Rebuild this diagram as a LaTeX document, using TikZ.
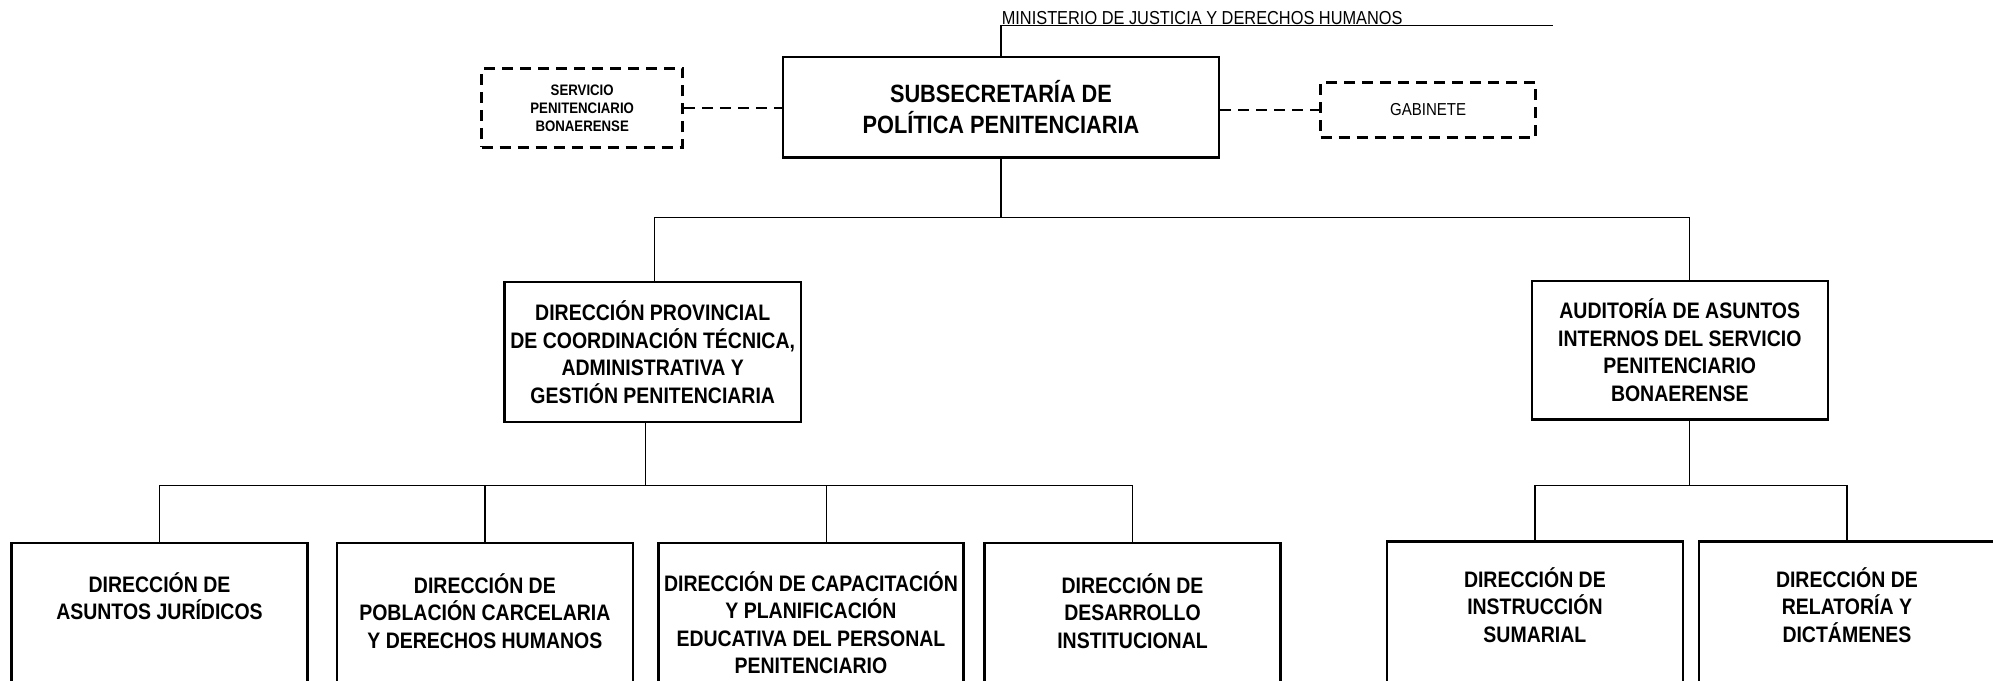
\documentclass[tikz,border=0pt]{standalone}
\usepackage{fontspec}
\setmainfont{Liberation Sans}[FakeStretch=0.87]
\usetikzlibrary{calc}
\begin{document}
\begin{tikzpicture}[x=1pt,y=-1pt]
\tikzset{
 box/.style={draw, line width=2.5pt, inner sep=0pt, align=center},
 dbox/.style={draw, line width=2.5pt, dash pattern=on 11pt off 7pt, inner sep=0pt, align=center},
 conn/.style={line width=1.2pt},
 dconn/.style={line width=2.5pt, dash pattern=on 11pt off 7pt},
 bigtxt/.style={font=\fontsize{25}{30.6}\selectfont\bfseries},
 medtxt/.style={font=\fontsize{22.4}{27.6}\selectfont\bfseries},
 smalltxt/.style={font=\fontsize{15.2}{17.8}\selectfont\bfseries},
 gabtxt/.style={font=\fontsize{17.3}{18}\selectfont},
 mintxt/.style={font=\fontsize{18.8}{18}\selectfont},
 txt/.style={inner sep=0pt, align=center},
 lowbox/.style={box, anchor=north, minimum width=296pt, minimum height=250pt}
}
\path[use as bounding box] (0,0) rectangle (1993,680);
\clip (0,0) rectangle (1993,680);
% top level
\node[box, bigtxt, minimum width=436pt, minimum height=100.6pt] (sub) at (1001,107.3) {SUBSECRETARÍA DE\\POLÍTICA PENITENCIARIA};
\node[dbox, smalltxt, minimum width=201pt, minimum height=78.8pt] (serv) at (582.2,108) {SERVICIO\\PENITENCIARIO\\BONAERENSE};
\node[dbox, gabtxt, minimum width=214.8pt, minimum height=54.7pt] (gab) at (1428.1,110) {GABINETE};
\coordinate (mtop) at (1001,25.4);
\coordinate (mend) at (1553,25.4);
\node[mintxt, inner sep=0pt, anchor=base west] (min) at (1001.6,24) {MINISTERIO DE JUSTICIA Y DERECHOS HUMANOS};
\draw[conn] (sub.north) -- (mtop) -- (mend);
\draw[dconn] (serv.east) -- (sub.west |- serv.east);
\draw[dconn] (sub.east |- gab.west) -- (gab.west);
% second level
\node[box, medtxt, minimum width=296.2pt, minimum height=139.8pt] (dp) at (652.7,352.1) {DIRECCIÓN PROVINCIAL\\DE COORDINACIÓN TÉCNICA,\\ADMINISTRATIVA Y\\GESTIÓN PENITENCIARIA};
\node[box, medtxt, minimum width=296pt, minimum height=138.5pt] (aud) at (1679.75,350.25) {AUDITORÍA DE ASUNTOS\\INTERNOS DEL SERVICIO\\PENITENCIARIO\\BONAERENSE};
\coordinate (busL) at (654.6,217.4);
\coordinate (busR) at (1689.3,217.4);
\draw[conn] (sub.south) -- (sub.south |- busL);
\draw[conn] (busL |- dp.north) -- (busL) -- (busR) -- (busR |- aud.north);
% third level boxes
\node[lowbox] (b1) at (159.5,541.5) {};
\node[lowbox] (b2) at (484.9,541.5) {};
\node[lowbox, minimum width=305pt] (b3) at (810.95,541.5) {};
\node[lowbox] (b4) at (1132.5,541.5) {};
\node[lowbox] (b5) at (1534.9,540.2) {};
\node[lowbox] (b6) at (1846.9,540.2) {};
\node[txt, medtxt] (t1) at (159.5,596) {DIRECCIÓN DE\\ASUNTOS JURÍDICOS};
\node[txt, medtxt] (t2) at (484.9,611) {DIRECCIÓN DE\\POBLACIÓN CARCELARIA\\Y DERECHOS HUMANOS};
\node[txt, medtxt] (t3) at (810.95,622.6) {DIRECCIÓN DE CAPACITACIÓN\\Y PLANIFICACIÓN\\EDUCATIVA DEL PERSONAL\\PENITENCIARIO};
\node[txt, medtxt] (t4) at (1132.5,611) {DIRECCIÓN DE\\DESARROLLO\\INSTITUCIONAL};
\node[txt, medtxt] (t5) at (1534.9,605) {DIRECCIÓN DE\\INSTRUCCIÓN\\SUMARIAL};
\node[txt, medtxt] (t6) at (1846.9,605) {DIRECCIÓN DE\\RELATORÍA Y\\DICTÁMENES};
% left bus
\coordinate (lb) at (645.7,485.6);
\draw[conn] (dp.south -| lb) -- (lb);
\draw[conn] (b1.north) -- (b1.north |- lb) -- (b4.north |- lb) -- (b4.north);
\draw[conn] (b2.north) -- (b2.north |- lb);
\coordinate (b3x) at (826.2,485.6);
\draw[conn] (b3x) -- (b3x |- b3.north);
% right bus
\coordinate (rb) at (1689.3,485.6);
\draw[conn] (aud.south -| rb) -- (rb);
\draw[conn] (b5.north) -- (b5.north |- rb) -- (b6.north |- rb) -- (b6.north);
\end{tikzpicture}
\end{document}
